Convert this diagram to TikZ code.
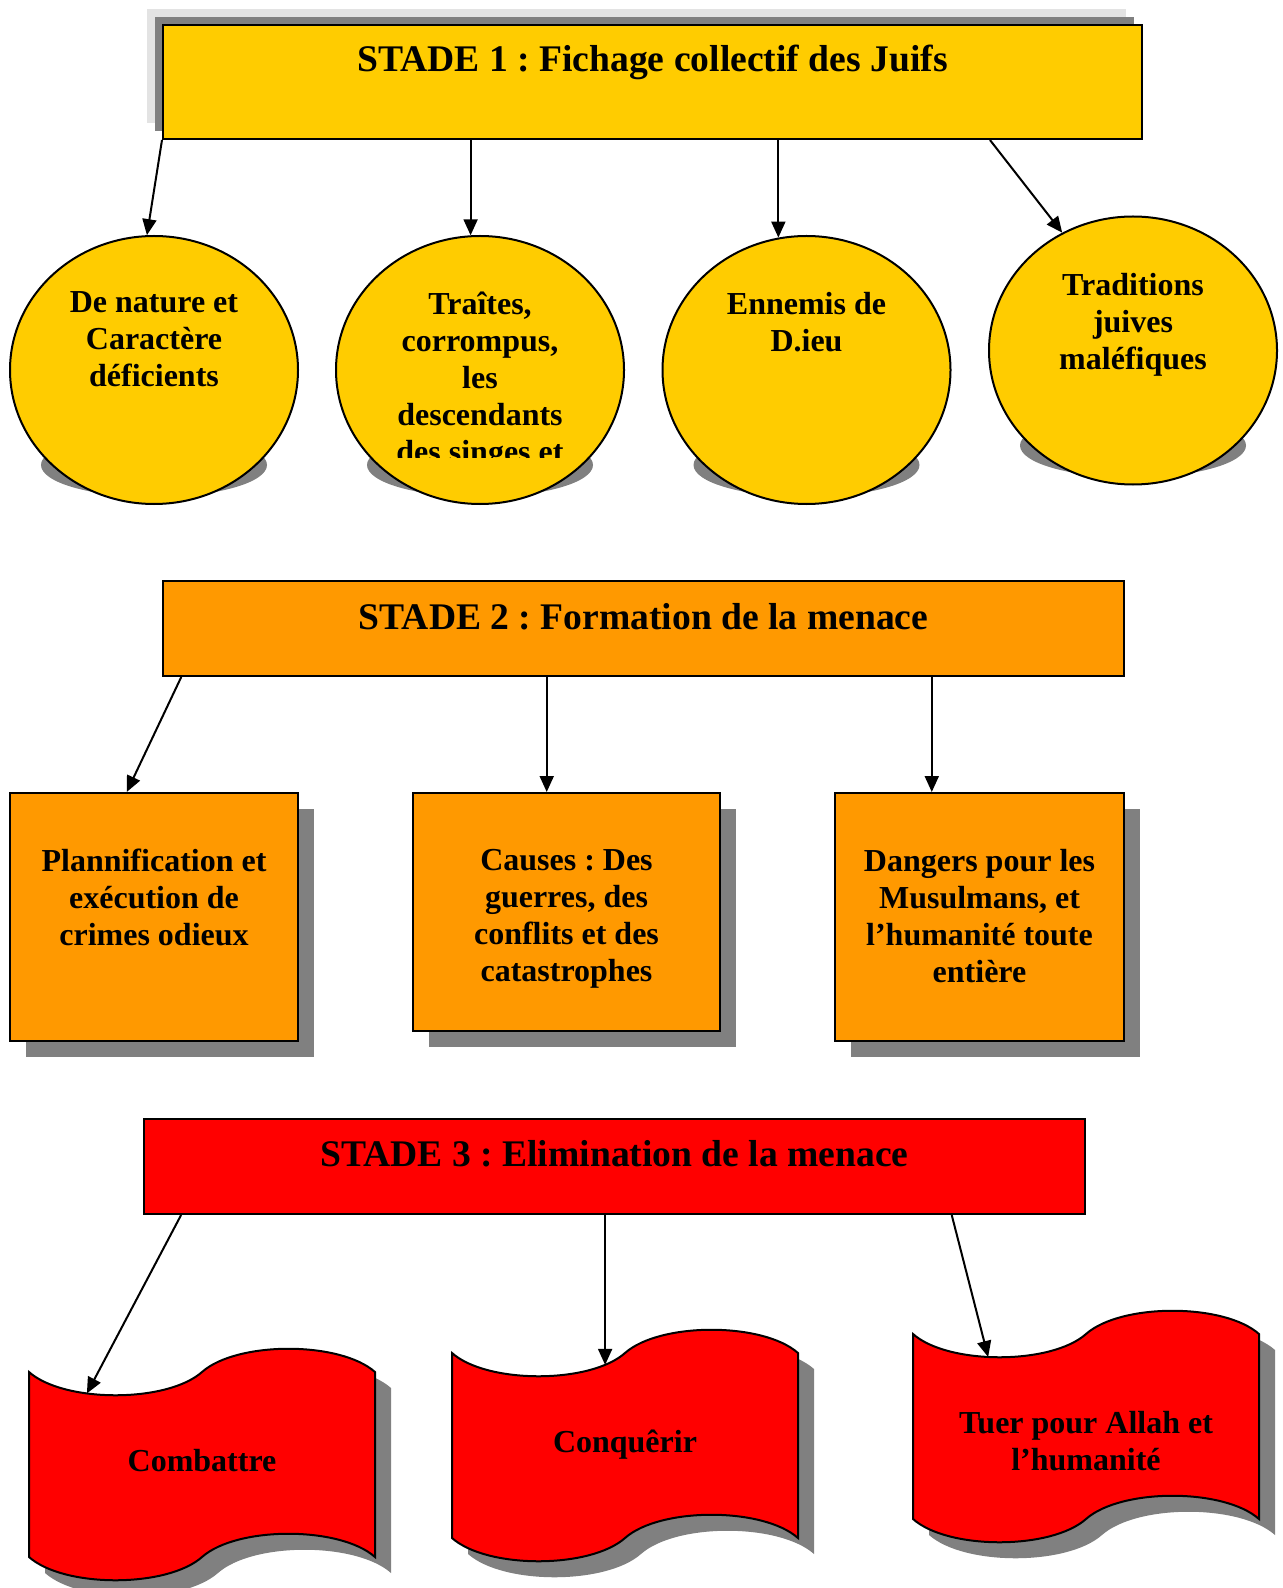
\documentclass[tikz,border=0pt]{standalone}
\usepackage{fontspec}
\setmainfont{Liberation Serif}
\frenchspacing
\usetikzlibrary{shapes.geometric,calc,arrows.meta,shadows}
\definecolor{gold}{HTML}{FFCC00}
\definecolor{amber}{HTML}{FF9900}
\definecolor{darkshade}{HTML}{808080}
\definecolor{pale}{HTML}{E3E3E3}
\tikzset{
  blob/.style={ellipse,draw,fill=gold,minimum width=144pt,minimum height=134pt,inner sep=0pt},
  card/.style={rectangle,draw,fill=amber,inner sep=0pt,
    general shadow={fill=darkshade,shadow xshift=8pt,shadow yshift=-8pt}},
  banner/.style={rectangle,draw,inner sep=0pt,minimum height=47.5pt},
  head/.style={font=\bfseries\fontsize{18.8}{22}\selectfont,anchor=base,inner sep=0pt},
  txt/.style={font=\bfseries\fontsize{16}{18.5}\selectfont,align=center,anchor=north,inner sep=0pt},
}
\begin{document}
\begin{tikzpicture}[x=0.5pt,y=-0.5pt,line width=1pt,>={Triangle[length=8pt,width=7pt]}]
    \useasboundingbox (0,0) rectangle (1282,1588);
    \clip (0,0) rectangle (1282,1588);
    \def\wavepath{(0,0) .. controls (35,31) and (138,31) .. (173,0)
      .. controls (208,-31) and (311,-31) .. (346,0) -- (346,185)
      .. controls (311,154) and (208,154) .. (173,185)
      .. controls (138,216) and (35,216) .. (0,185) -- cycle}
    \def\flag#1#2#3#4#5{%
      \begin{scope}[shift={(#1,#2)}]
        \fill[darkshade,shift={(16,16)}] \wavepath;
        \draw[fill=red] \wavepath;
        \path (0,0) .. controls (35,31) and (138,31) .. (173,0) coordinate[pos=#4] (#3in);
        \node[txt] (#3) at (173,76) {#5};
      \end{scope}}
    % stade 1
    \node[banner,fill=gold,minimum width=489.5pt,minimum height=57pt,
      general shadow={fill=pale,shadow xshift=-8pt,shadow yshift=8pt},
      general shadow={fill=darkshade,shadow xshift=-4pt,shadow yshift=4pt}] (S1_0) at (652.5,82) {};
    \node[head] (T1) at (652.5,71.5) {STADE 1 : Fichage collectif des Juifs};
    \foreach \cx/\cy in {154/370,480/370,806.5/370,1133/350.5}
      \fill[darkshade] (\cx,\cy+95) ellipse [x radius=56.5pt,y radius=16pt];
    \node[blob] (S1_1) at (154,370) {};
    \node[blob] (S1_2) at (480,370) {};
    \node[blob] (S1_3) at (806.5,370) {};
    \node[blob] (S1_4) at (1133,350.5) {};
    \node[txt] (L1_1) at (154,291) {De nature et\\Caractère\\déficients};
    \begin{scope}
      \clip (336,236) rectangle (624,458);
      \node[txt] (L1_2) at (480,291) {Traîtes,\\corrompus,\\les\\descendants\\des singes et};
    \end{scope}
    \node[txt] (L1_3) at (806.5,291) {Ennemis de\\D.ieu};
    \node[txt] (L1_4) at (1133,272) {Traditions\\juives\\maléfiques};
    \path (S1_0.south west) edge [->] (S1_1.93);
    \path (S1_2.94 |- S1_0.south) edge [->] (S1_2.94);
    \path (S1_3.102 |- S1_0.south) edge [->] (S1_3.102);
    \path ($(S1_0.south west)!0.844!(S1_0.south east)$) edge [->] (S1_4.121);
    % stade 2
    \node[banner,fill=amber,minimum width=480.5pt] (S2_0) at (643.5,628.5) {};
    \node[head] (T2) at (643.5,629.5) {STADE 2 : Formation de la menace};
    \node[card,minimum width=144pt,minimum height=124pt] (S2_1) at (154,917) {};
    \node[card,minimum width=153.5pt,minimum height=119pt] (S2_2) at (566.5,912) {};
    \node[card,minimum width=144.5pt,minimum height=124pt] (S2_3) at (979.5,917) {};
    \node[txt] (L2_1) at (154,848) {Plannification et\\exécution de\\crimes odieux};
    \node[txt] (L2_2) at (566.5,848) {Causes : Des\\guerres, des\\conflits et des\\catastrophes};
    \node[txt] (L2_3) at (979.5,848) {Dangers pour les\\Musulmans, et\\l’humanité toute\\entière};
    \coordinate (S2_1in) at ($(S2_1.north west)!0.406!(S2_1.north east)$);
    \coordinate (S2_2in) at ($(S2_2.north west)!0.436!(S2_2.north east)$);
    \coordinate (S2_3in) at ($(S2_3.north west)!0.336!(S2_3.north east)$);
    \path ($(S2_0.south west)!0.02!(S2_0.south east)$) edge [->] (S2_1in);
    \path (S2_2in |- S2_0.south) edge [->] (S2_2in);
    \path (S2_3in |- S2_0.south) edge [->] (S2_3in);
    % stade 3
    \node[banner,fill=red,minimum width=470.5pt] (S3_0) at (614.5,1166.5) {};
    \node[head] (T3) at (614.5,1166) {STADE 3 : Elimination de la menace};
    \flag{29}{1372}{S3_1}{0.36}{Combattre}
    \flag{452}{1353}{S3_2}{0.85}{Conquêrir}
    \flag{913}{1334}{S3_3}{0.445}{Tuer pour Allah et\\l’humanité}
    \path ($(S3_0.south west)!0.0404!(S3_0.south east)$) edge [->] (S3_1in);
    \path (S3_2in |- S3_0.south) edge [->] (S3_2in);
    \path ($(S3_0.south west)!0.8576!(S3_0.south east)$) edge [->] (S3_3in);
  \end{tikzpicture}
\end{document}
